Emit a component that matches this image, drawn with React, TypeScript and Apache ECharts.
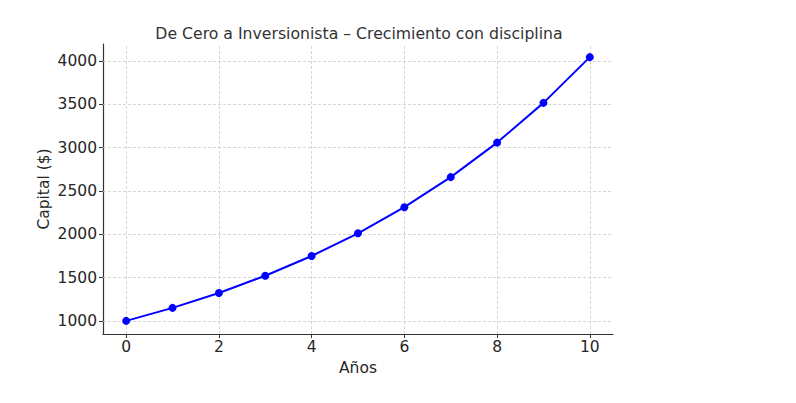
import React, { useEffect, useRef } from "react";
import * as echarts from "echarts";

const years = [0, 1, 2, 3, 4, 5, 6, 7, 8, 9, 10];
const capital = [1000, 1150, 1322, 1521, 1749, 2011, 2313, 2660, 3059, 3518, 4046];
const yTicks = [1000, 1500, 2000, 2500, 3000, 3500, 4000];
const xTicks = [0, 2, 4, 6, 8, 10];

const FONT = "DejaVu Sans";
const FS = 15.5;

export default function App() {
  const ref = useRef<HTMLDivElement>(null);
  useEffect(() => {
    if (!ref.current) return;
    const chart = echarts.init(ref.current, null, { renderer: "svg" });
    const gridLine = { color: "#cccccc", type: [3, 2] as any, width: 0.8 };
    chart.setOption({
      animation: false,
      backgroundColor: "#ffffff",
      title: {
        text: "De Cero a Inversionista – Crecimiento con disciplina",
        left: 354,
        textAlign: "center",
        top: 20,
        textStyle: { fontFamily: FONT, fontSize: 15.7, fontWeight: "normal", color: "#333333" },
      },
      grid: { left: 103, right: 183, top: 44, bottom: 69, containLabel: false },
      xAxis: {
        type: "value",
        min: -0.5,
        max: 10.5,
        name: "Años",
        nameLocation: "middle",
        nameGap: 26,
        nameMoveOverlap: false,
        nameTextStyle: { fontFamily: FONT, fontSize: FS, color: "#262626" },
        axisLine: { show: true, onZero: false, lineStyle: { color: "#333333", width: 1.2 } },
        axisTick: { show: true, customValues: xTicks, length: 4, inside: false, lineStyle: { color: "#333333" } },
        axisLabel: { customValues: xTicks, formatter: (v: number) => String(v), fontFamily: FONT, fontSize: FS, color: "#262626", margin: 5 },
        splitLine: { show: false },
      },
      yAxis: {
        type: "value",
        min: 848,
        max: 4198,
        name: "Capital ($)",
        nameLocation: "middle",
        nameGap: 51,
        nameMoveOverlap: false,
        nameRotate: 90,
        nameTextStyle: { fontFamily: FONT, fontSize: FS, color: "#262626" },
        axisLine: { show: true, onZero: false, lineStyle: { color: "#333333", width: 1.2 } },
        axisTick: { show: true, customValues: yTicks, length: 4, inside: false, lineStyle: { color: "#333333" } },
        axisLabel: { customValues: yTicks, formatter: (v: number) => String(v), fontFamily: FONT, fontSize: FS, color: "#262626", margin: 6 },
        splitLine: { show: false },
      },
      series: [
        {
          type: "line",
          data: years.map((y, i) => [y, capital[i]]),
          symbol: "circle",
          symbolSize: 8,
          lineStyle: { color: "#0000ff", width: 2 },
          itemStyle: { color: "#0000ff" },
          z: 3,
          markLine: {
            silent: true,
            symbol: "none",
            label: { show: false },
            lineStyle: gridLine,
            z: 1,
            data: [
              ...yTicks.map((v) => ({ yAxis: v })),
              ...xTicks.map((v) => ({ xAxis: v })),
            ],
          },
        },
      ],
    });
    return () => chart.dispose();
  }, []);
  return <div ref={ref} style={{ position: "fixed", left: 0, top: 0, width: 796, height: 403 }} />;
}
